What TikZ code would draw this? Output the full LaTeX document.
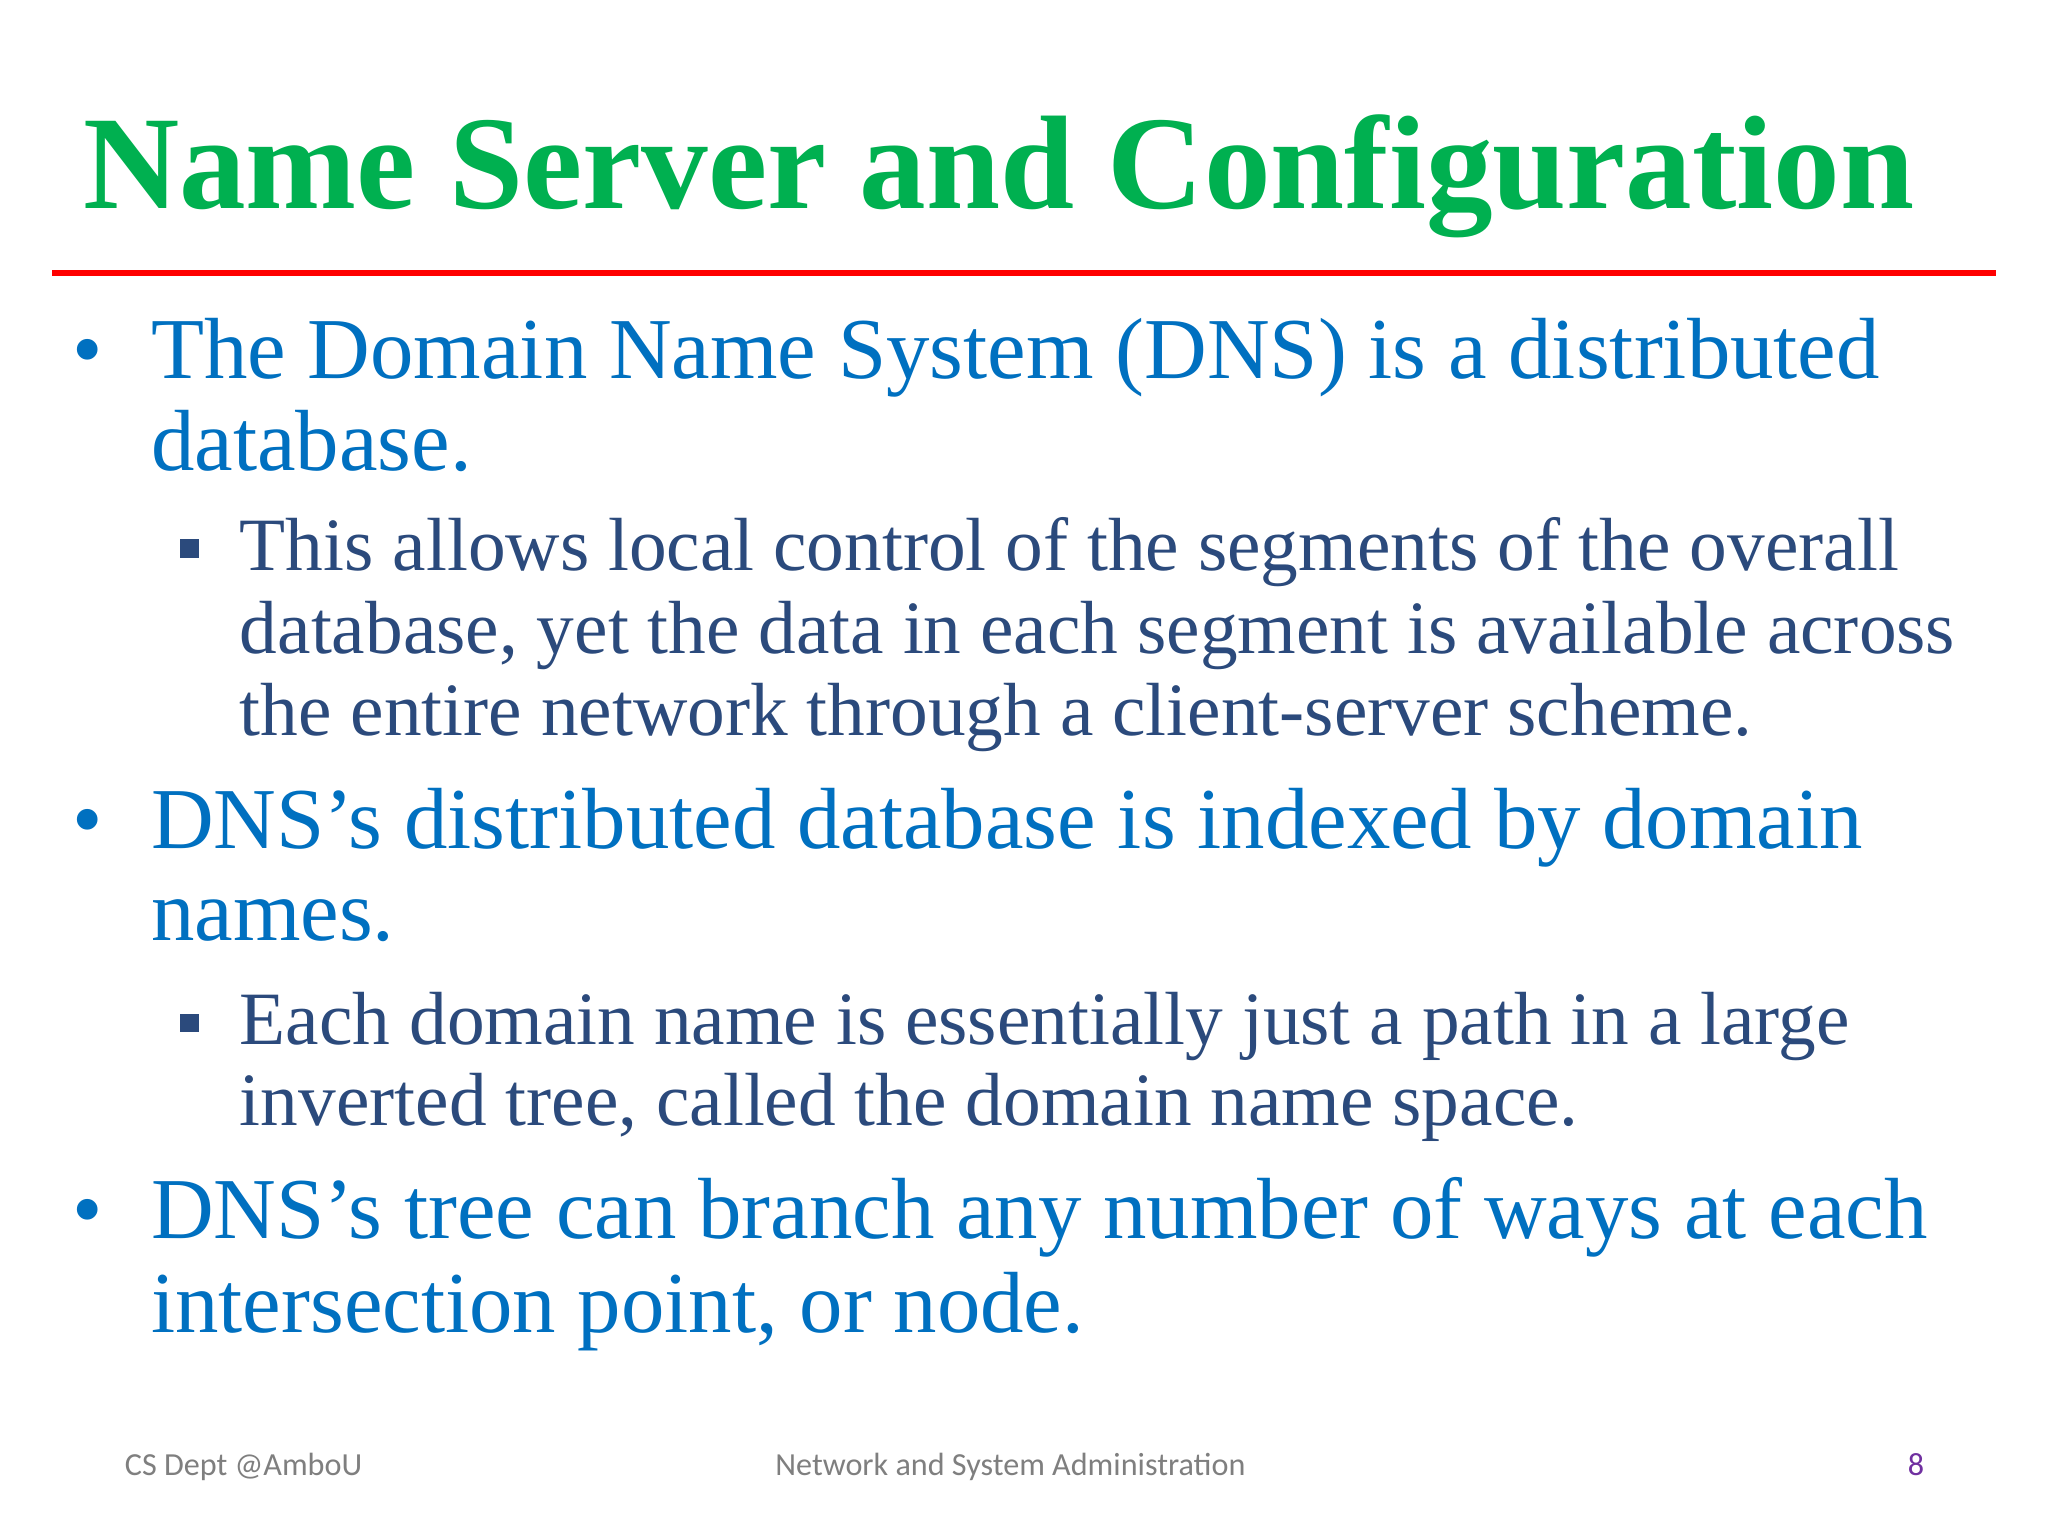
\documentclass[tikz,border=0pt]{standalone}
\usepackage{fontspec}
\setmainfont{Liberation Serif}[Ligatures=ResetAll]
\newfontfamily\footfont{Carlito}
\definecolor{tgreen}{HTML}{00B050}
\definecolor{tblue}{HTML}{0070C0}
\definecolor{tdark}{HTML}{2B4A7C}
\definecolor{fgray}{HTML}{7F7F7F}
\definecolor{fpurp}{HTML}{7030A0}
\tikzset{
 lvla/.style={anchor=base west,inner sep=0pt,text=tblue,font=\fontsize{18.9}{20}\selectfont},
 lvlb/.style={anchor=base west,inner sep=0pt,text=tdark,font=\fontsize{16.4}{18}\selectfont},
 sq/.style={fill=tdark,inner sep=0pt,minimum size=0.14cm},
 foot/.style={anchor=base west,inner sep=0pt,text=fgray,font=\footfont\fontsize{7}{8}\selectfont},
}
\begin{document}
\begin{tikzpicture}[x=0.01cm,y=-0.01cm]
\useasboundingbox[fill=white] (0,0) rectangle (1568,1176);
\node[anchor=base west,inner sep=0pt,text=tgreen,font=\bfseries\fontsize{29}{30}\selectfont] (title) at (63,160) {Name Server and Configuration};
\draw[red,line width=1.4pt] (40,209) -- (1528,209);
\node[lvla] (b1d) at (55,290) {•};
\node[lvla] (b1a) at (115,290) {The Domain Name System (DNS) is a distributed};
\node[lvla] (b1b) at (115,360) {database.};
\node[sq] (s1d) at (145,420) {};
\node[lvlb] (s1a) at (183,437) {This allows local control of the segments of the overall};
\node[lvlb] (s1b) at (183,500) {database, yet the data in each segment is available across};
\node[lvlb] (s1c) at (183,563) {the entire network through a client-server scheme.};
\node[lvla] (b2d) at (55,650) {•};
\node[lvla] (b2a) at (115,650) {DNS's distributed database is indexed by domain};
\node[lvla] (b2b) at (115,720) {names.};
\node[sq] (s2d) at (145,783) {};
\node[lvlb] (s2a) at (183,800) {Each domain name is essentially just a path in a large};
\node[lvlb] (s2b) at (183,862) {inverted tree, called the domain name space.};
\node[lvla] (b3d) at (55,948) {•};
\node[lvla] (b3a) at (115,948) {DNS's tree can branch any number of ways at each};
\node[lvla] (b3b) at (115,1020) {intersection point, or node.};
\node[foot] (f1) at (95,1130) {CS Dept @AmboU};
\node[foot] (f2) at (593,1130) {Network and System Administration};
\node[foot,text=fpurp] (f3) at (1460,1130) {8};
\end{tikzpicture}
\end{document}
